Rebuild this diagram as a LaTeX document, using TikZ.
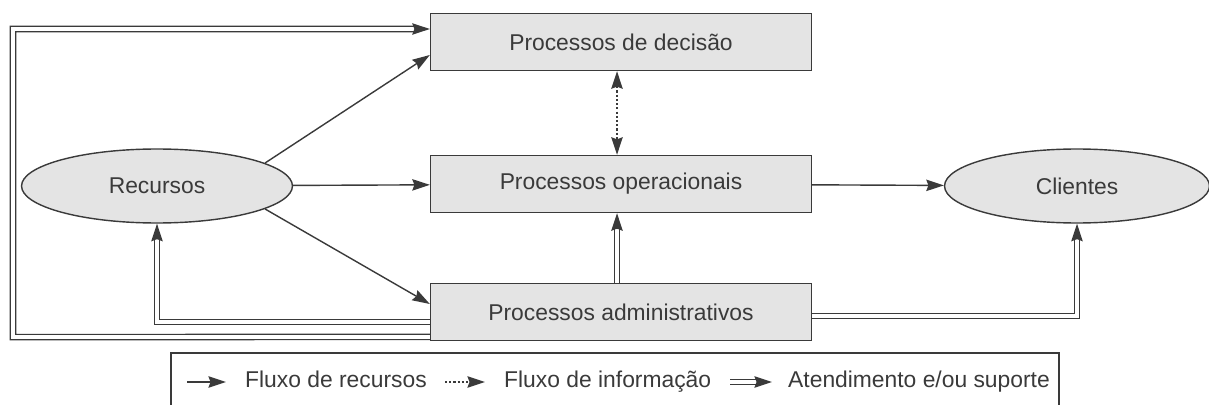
\documentclass[tikz,border=0pt]{standalone}
\usepackage{fontspec}
\setmainfont{Liberation Sans}
\usetikzlibrary{shapes.geometric,arrows.meta}
\definecolor{cinzafundo}{HTML}{E4E4E4}
\definecolor{cinzalinha}{HTML}{3A3A3A}
\tikzset{
	processo/.style={draw=cinzalinha, fill=cinzafundo, line width=0.8pt,
		minimum width=7.62cm, minimum height=1.14cm, text=cinzalinha,
		font=\fontsize{13}{15}\selectfont},
	elipse/.style={ellipse, draw=cinzalinha, fill=cinzafundo, line width=0.8pt,
		minimum height=1.48cm, text=cinzalinha, font=\fontsize{13}{15}\selectfont},
	legenda/.style={anchor=base west, text=cinzalinha, font=\fontsize{13}{15}\selectfont},
	fluxo/.style={draw=cinzalinha, line width=0.8pt,
		-{Stealth[length=10pt,width=6.5pt,inset=1.2pt]}},
	informacao/.style={draw=cinzalinha, line width=0.8pt, dash pattern=on 1.2pt off 1.2pt},
	suporte/.style={draw=cinzalinha, line width=0.75pt, double=white, double distance=2.2pt,
		-{Stealth[length=10pt,width=6.5pt,inset=1.2pt]}}
}

\begin{document}
\begin{tikzpicture}[x=0.02cm, y=-0.02cm]
	\useasboundingbox (0,0) rectangle (1209,405);

	\node[processo] (dec) at (621,42) {Processos de decisão};
	\node[processo] (op) at (621,184) {Processos operacionais};
	\node[processo] (adm) at (621,312) {Processos administrativos};
	\node[elipse, minimum width=5.42cm] (rec) at (157,186) {Recursos};
	\node[elipse, minimum width=5.3cm] (cli) at (1077,186) {Clientes};
	\coordinate (esq) at (13,337);

	\draw[fluxo] (rec.12) -- ([yshift=-0.26cm]dec.west);
	\draw[fluxo] (rec) -- (op);
	\draw[fluxo] (rec.-12) -- ([yshift=0.16cm]adm.west);
	\draw[fluxo] (op) -- (cli);
	\draw[informacao, {Stealth[length=10pt,width=6.5pt,inset=1.2pt]}-{Stealth[length=10pt,width=6.5pt,inset=1.2pt]}]
		([xshift=-0.08cm]dec.south) -- ([xshift=-0.08cm]op.north);
	\draw[suporte] ([xshift=-0.08cm]adm.north) -- ([xshift=-0.08cm]op.south);
	\draw[suporte] ([yshift=-0.08cm]adm.east) -| (cli.south);
	\draw[suporte] ([yshift=-0.2cm]adm.west) -| (rec.south);
	\draw[suporte] 
		([yshift=-0.5cm]adm.west) 
		-- (esq) 
		|- ([yshift=0.26cm]dec.west);

	% legenda
	\draw[draw=cinzalinha, line width=0.8pt] (171,415) |- (1059,353) -- (1059,415);
	\coordinate (a1) at (187,382);
	\coordinate (b1) at (226,382);
	\coordinate (a2) at (445,382);
	\coordinate (b2) at (485,382);
	\coordinate (a3) at (730,382);
	\coordinate (b3) at (772,382);
	\draw[fluxo] (a1) -- (b1);
	\draw[informacao, -{Stealth[length=10pt,width=6.5pt,inset=1.2pt]}] (a2) -- (b2);
	\draw[suporte] (a3) -- (b3);
	\node[legenda] (l1) at (239,387) {Fluxo de recursos};
	\node[legenda] (l2) at (498,387) {Fluxo de informação};
	\node[legenda] (l3) at (782,387) {Atendimento e/ou suporte};
\end{tikzpicture}
\end{document}
